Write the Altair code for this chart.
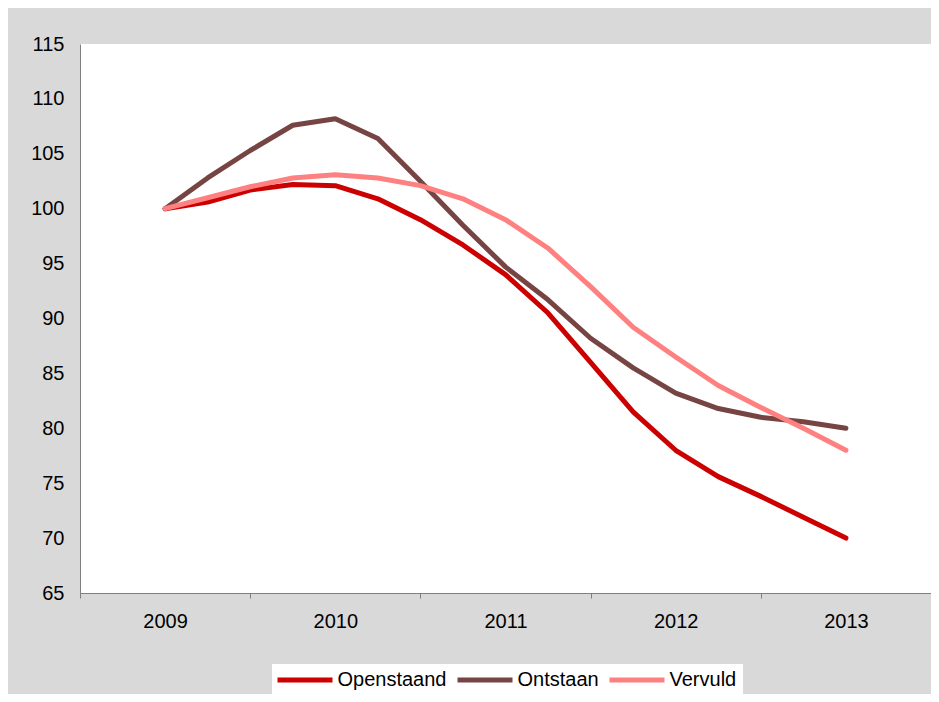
import altair as alt
import pandas as pd

years = ["2009", "2010", "2011", "2012", "2013"]
series = ["Openstaand", "Ontstaan", "Vervuld"]
colors = ["#cc0000", "#774444", "#ff8080"]
y_ticks = [65, 70, 75, 80, 85, 90, 95, 100, 105, 110, 115]

# quarterly index values, 2009 .. 2013 (17 quarters)
openstaand = [100, 100.6, 101.7, 102.2, 102.1, 100.9, 99.0, 96.7, 94.0, 90.5, 86.0, 81.5, 78.0, 75.6, 73.8, 71.9, 70.0]
ontstaan = [100, 102.8, 105.3, 107.6, 108.2, 106.4, 102.5, 98.5, 94.7, 91.7, 88.2, 85.5, 83.2, 81.8, 81.0, 80.6, 80.0]
vervuld = [100, 101.0, 102.0, 102.8, 103.1, 102.8, 102.1, 100.9, 99.0, 96.4, 92.9, 89.2, 86.5, 83.9, 81.9, 80.0, 78.0]

rows = []
for name, vals in zip(series, [openstaand, ontstaan, vervuld]):
    for i, v in enumerate(vals):
        rows.append({"serie": name, "kwartaal": i, "index": v})
df = pd.DataFrame(rows)

FONT = "Liberation Sans"
year_arr = "[" + ",".join("'%s'" % y for y in years) + "]"
label_expr = year_arr + "[(datum.value + 2) / 4] || ''"

chart = alt.Chart(df).mark_line(strokeWidth=5, strokeCap="round", strokeJoin="round").encode(
    x=alt.X("kwartaal:Q",
            scale=alt.Scale(domain=[-2, 18], nice=False, zero=False),
            axis=alt.Axis(values=[-2, 2, 6, 10, 14, 18], labelExpr=label_expr, labelOffset=85.1,
                          title=None, grid=False, tickSize=5, labelPadding=13, labelFontSize=20,
                          labelFont=FONT, labelColor="black", domainColor="#7f7f7f",
                          tickColor="#7f7f7f", labelFlush=False, labelOverlap=False, labelBound=False)),
    y=alt.Y("index:Q",
            scale=alt.Scale(domain=[65, 115], nice=False, zero=False),
            axis=alt.Axis(values=y_ticks, title=None, grid=False, ticks=False, labelPadding=16,
                          labelFontSize=20, labelFont=FONT, labelColor="black",
                          domainColor="#7f7f7f")),
    color=alt.Color("serie:N",
                    scale=alt.Scale(domain=series, range=colors),
                    legend=alt.Legend(title=None, orient="none", legendX=192, legendY=620,
                                      direction="horizontal", fillColor="white", padding=6,
                                      symbolType="M-5.5,0H5.5", symbolStrokeWidth=5, symbolSize=100,
                                      symbolOffset=17,
                                      labelFontSize=20, labelFont=FONT, labelColor="black",
                                      labelOffset=22.5, columnPadding=0)),
    detail="serie:N",
).properties(
    width=851, height=549,
    padding={"left": 72, "top": 36, "right": 0, "bottom": 101},
    autosize=alt.AutoSizeParams(type="none"),
    background="#d9d9d9",
).configure_view(stroke=None, fill="white")

chart.save("out.html", embed_options={"renderer": "svg", "actions": False})
